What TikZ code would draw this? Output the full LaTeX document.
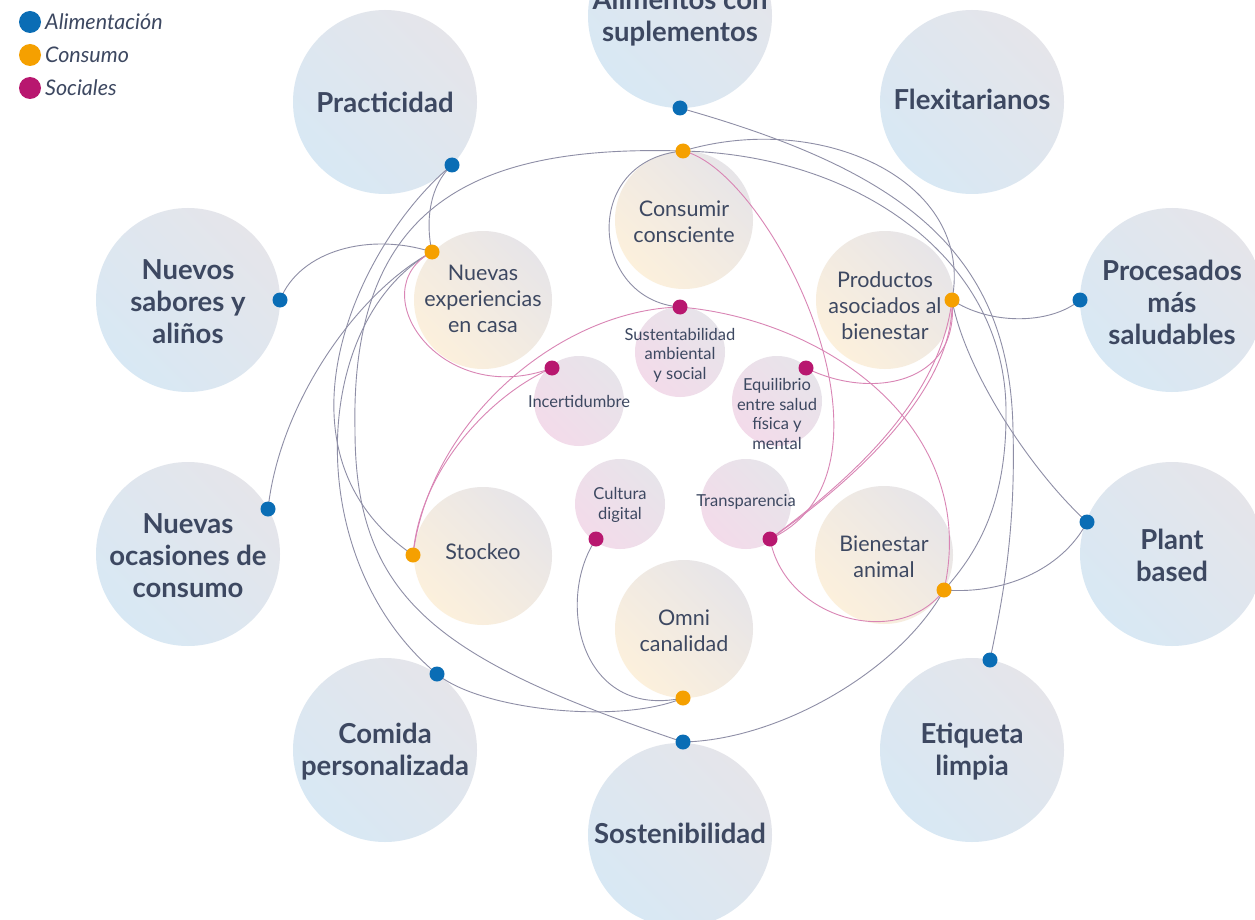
\documentclass[tikz,border=0pt]{standalone}
\usepackage{fontspec}
\setmainfont{Lato}
\definecolor{txt}{HTML}{3D4861}
\definecolor{cb}{HTML}{0A6DB5}
\definecolor{co}{HTML}{F5A000}
\definecolor{cm}{HTML}{B8176F}
\definecolor{lg}{HTML}{8E8EA6}
\definecolor{lp}{HTML}{D985B5}
\definecolor{gA}{HTML}{E5E5EA}
\definecolor{bA}{HTML}{D8E8F4}
\definecolor{gB}{HTML}{E7E5E8}
\definecolor{oB}{HTML}{FCF0DC}
\definecolor{gC}{HTML}{E7E4EA}
\definecolor{pC}{HTML}{F3DBEA}
\pgfdeclarelayer{front}
\pgfsetlayers{main,front}
\tikzset{
  outer/.style={circle, minimum size=184pt, inner sep=0pt, top color=gA, bottom color=bA, shading angle=-45},
  inner/.style={circle, minimum size=138pt, inner sep=0pt, top color=gB, bottom color=oB, shading angle=-45},
  soc/.style={circle, minimum size=90pt, inner sep=0pt, top color=gC, bottom color=pC, shading angle=-45},
  outertext/.style={text=txt, align=center, inner sep=0pt, font=\bfseries\fontsize{27.5}{32}\selectfont},
  innertext/.style={text=txt, align=center, inner sep=0pt, font=\fontsize{21.5}{26}\selectfont},
  soctext/.style={text=txt, align=center, inner sep=0pt, font=\fontsize{16.5}{19.5}\selectfont},
  dotb/.style={circle, fill=cb, minimum size=15pt, inner sep=0pt},
  doto/.style={circle, fill=co, minimum size=15pt, inner sep=0pt},
  dotm/.style={circle, fill=cm, minimum size=15pt, inner sep=0pt},
  legdot/.style={circle, minimum size=22pt, inner sep=0pt},
  legtext/.style={anchor=west, text=txt, inner sep=0pt, font=\itshape\fontsize{21.5}{24}\selectfont},
  gl/.style={draw=lg, line width=0.9pt},
  pl/.style={draw=lp, line width=0.9pt},
}
\begin{document}
\begin{tikzpicture}[x=1pt,y=-1pt]
\useasboundingbox (0,0) rectangle (1255,920);
\fill[white] (0,0) rectangle (1255,920);
% outer circles
\node[outer] (cSupl) at (680,16) {};
\node[outer] (cPract) at (385,102) {};
\node[outer] (cFlex) at (972,102) {};
\node[outer] (cSab) at (188,300) {};
\node[outer] (cProc) at (1172,300) {};
\node[outer] (cOcas) at (188,554) {};
\node[outer] (cPlant) at (1172,554) {};
\node[outer] (cComida) at (385,750) {};
\node[outer] (cEtiq) at (972,750) {};
\node[outer] (cSost) at (680,835) {};
\node[outertext] (tSupl) at (680,18) {Alimentos con\\suplementos};
\node[outertext] (tPract) at (385,102) {Practicidad};
\node[outertext] (tFlex) at (972,99) {Flexitarianos};
\node[outertext] (tSab) at (188,302) {Nuevos\\sabores y\\aliños};
\node[outertext] (tProc) at (1172,302) {Procesados\\más\\saludables};
\node[outertext] (tOcas) at (188,556) {Nuevas\\ocasiones de\\consumo};
\node[outertext] (tPlant) at (1172,555) {Plant\\based};
\node[outertext] (tComida) at (385,752) {Comida\\personalizada};
\node[outertext] (tEtiq) at (972,752) {Etiqueta\\limpia};
\node[outertext] (tSost) at (680,833) {Sostenibilidad};
% inner circles
\node[inner] (iCons) at (684,220) {};
\node[inner] (iExp) at (483,300) {};
\node[inner] (iProd) at (885,300) {};
\node[inner] (iStock) at (483,556) {};
\node[inner] (iBien) at (884,555) {};
\node[inner] (iOmni) at (684,629) {};
\node[innertext] (tCons) at (684,222) {Consumir\\consciente};
\node[innertext] (tExp) at (483,299) {Nuevas\\experiencias\\en casa};
\node[innertext] (tProd) at (885,306) {Productos\\asociados al\\bienestar};
\node[innertext] (tStock) at (483,552) {Stockeo};
\node[innertext] (tBien) at (884,557) {Bienestar\\animal};
\node[innertext] (tOmni) at (684,631) {Omni\\canalidad};
% social circles
\node[soc] (sSust) at (680,352) {};
\node[soc] (sInc) at (579,401) {};
\node[soc] (sEq) at (777,401) {};
\node[soc] (sCult) at (620,504) {};
\node[soc] (sTrans) at (746,504) {};
\node[soctext] (tSust) at (680,355) {Sustentabilidad\\ambiental\\y social};
\node[soctext] (tInc) at (579,401) {Incertidumbre};
\node[soctext] (tEq) at (777,414) {Equilibrio\\entre salud\\física y\\mental};
\node[soctext] (tCult) at (620,505) {Cultura\\digital};
\node[soctext] (tTrans) at (746,502) {Transparencia};
% dots (front layer)
\begin{pgfonlayer}{front}
\node[dotb] (b1) at (680,108) {};
\node[dotb] (b2) at (452,165) {};
\node[dotb] (b3) at (280,300) {};
\node[dotb] (b4) at (268,509) {};
\node[dotb] (b5) at (437,674) {};
\node[dotb] (b6) at (683,742) {};
\node[dotb] (b7) at (990,660) {};
\node[dotb] (b8) at (1087,522) {};
\node[dotb] (b9) at (1080,300) {};
\node[doto] (o1) at (683,151) {};
\node[doto] (o2) at (432,252) {};
\node[doto] (o3) at (952,300) {};
\node[doto] (o4) at (413,555) {};
\node[doto] (o5) at (944,590) {};
\node[doto] (o6) at (683,698) {};
\node[dotm] (m1) at (680,307) {};
\node[dotm] (m2) at (552,368) {};
\node[dotm] (m3) at (806,368) {};
\node[dotm] (m4) at (596,539) {};
\node[dotm] (m5) at (770,539) {};
\end{pgfonlayer}
% gray connectors
\draw[gl] (b2.center) .. controls (430,185) and (425,220) .. (o2.center);
\draw[gl] (o2.center) .. controls (370,232) and (300,250) .. (b3.center);
\draw[gl] (o2.center) .. controls (360,290) and (280,400) .. (b4.center);
\draw[gl] (b2.center) .. controls (360,240) and (260,450) .. (o4.center);
\draw[gl] (o2.center) .. controls (310,320) and (300,560) .. (b5.center);
\draw[gl] (o1.center) .. controls (480,145) and (350,200) .. (355,430) .. controls (355,600) and (440,660) .. (b6.center);
\draw[gl] (b5.center) .. controls (480,710) and (620,725) .. (o6.center);
\draw[gl] (m4.center) .. controls (555,600) and (580,720) .. (o6.center);
\draw[gl] (o1.center) .. controls (580,160) and (590,300) .. (m1.center);
\draw[gl] (o1.center) .. controls (820,110) and (975,180) .. (o3.center);
\draw[gl] (b1.center) .. controls (900,170) and (1010,250) .. (1013,430) .. controls (1016,540) and (1000,610) .. (b7.center);
\draw[gl] (o1.center) .. controls (860,155) and (1005,260) .. (1006,410) .. controls (1007,500) and (980,550) .. (o5.center);
\draw[gl] (b6.center) .. controls (780,740) and (900,670) .. (o5.center);
\draw[gl] (o5.center) .. controls (1010,595) and (1065,565) .. (b8.center);
\draw[gl] (o3.center) .. controls (990,325) and (1050,325) .. (b9.center);
\draw[gl] (o3.center) .. controls (965,370) and (1030,470) .. (b8.center);
% pink connectors
\draw[pl] (o1.center) .. controls (770,170) and (920,470) .. (m5.center);
\draw[pl] (m1.center) .. controls (830,320) and (980,430) .. (o5.center);
\draw[pl] (m5.center) .. controls (785,620) and (900,650) .. (o5.center);
\draw[pl] (m3.center) .. controls (870,400) and (960,385) .. (o3.center);
\draw[pl] (m5.center) .. controls (850,480) and (940,400) .. (o3.center);
\draw[pl] (m5.center) .. controls (870,470) and (955,380) .. (o3.center);
\draw[pl] (m1.center) .. controls (560,310) and (430,420) .. (o4.center);
\draw[pl] (m2.center) .. controls (490,395) and (420,470) .. (o4.center);
\draw[pl] (m2.center) .. controls (440,410) and (360,290) .. (o2.center);
% legend
\node[legdot, fill=cb] (lA) at (30,22) {};
\node[legdot, fill=co] (lC) at (30,55) {};
\node[legdot, fill=cm] (lS) at (30,88) {};
\node[legtext] (tA) at (45,22) {Alimentación};
\node[legtext] (tC) at (45,55) {Consumo};
\node[legtext] (tS) at (45,88) {Sociales};
\end{tikzpicture}
\end{document}
